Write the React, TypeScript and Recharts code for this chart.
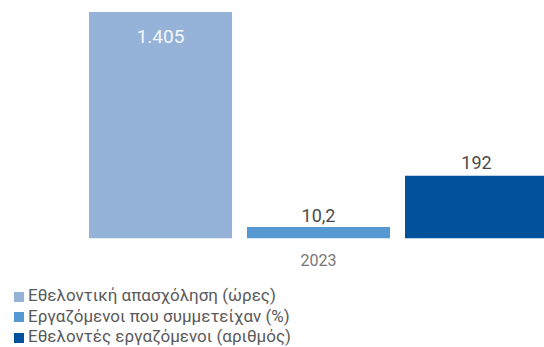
import React from 'react';
import {
  BarChart,
  Bar,
  XAxis,
  YAxis,
  Legend,
  LabelList,
} from 'recharts';

const categories = ['2023'];
const volunteerHours = [1405];
const participationPct = [10.2];
const volunteerEmployees = [192];

const seriesNames = [
  'Εθελοντική απασχόληση (ώρες)',
  'Εργαζόμενοι που συμμετείχαν (%)',
  'Εθελοντές εργαζόμενοι (αριθμός)',
];

const data = categories.map((year, i) => ({
  year,
  hours: volunteerHours[i],
  pct: participationPct[i],
  employees: volunteerEmployees[i],
}));

// greek number style: 1.405 / 10,2
const fmt = (v: any) => {
  const n = Number(v);
  if (Number.isInteger(n)) return String(n).replace(/\B(?=(\d{3})+(?!\d))/g, '.');
  return String(n).replace('.', ',');
};

const FONT = 'Roboto, sans-serif';

export default function App() {
  return (
    <div style={{ position: 'absolute', left: 0, top: 0, width: 544, height: 347, overflow: 'hidden', background: '#fff' }}>
      <BarChart
        width={560}
        height={347}
        data={data}
        margin={{ top: 12, right: 12, bottom: 17, left: 89 }}
        barCategoryGap={0}
        barGap={15}
        style={{ fontFamily: FONT }}
      >
        <XAxis
          dataKey="year"
          axisLine={false}
          tickLine={false}
          height={30}
          tick={{ fill: '#777', fontSize: 16, dy: 8 }}
        />
        <YAxis yAxisId="hours" hide domain={[0, 1405]} allowDataOverflow />
        <YAxis yAxisId="pct" hide domain={[0, 202]} allowDataOverflow />
        <YAxis yAxisId="employees" hide domain={[0, 693]} allowDataOverflow />
        <Legend
          layout="vertical"
          align="center"
          verticalAlign="bottom"
          iconType="square"
          iconSize={10}
          itemSorter={(item: any) => seriesNames.indexOf(item.value)}
          wrapperStyle={{ left: 14, top: 285, lineHeight: '20.5px', fontSize: 17 }}
          formatter={(value) => <span style={{ color: '#5a5a5a' }}>{value}</span>}
        />
        <Bar dataKey="hours" yAxisId="hours" name={seriesNames[0]} fill="#95b3d8" isAnimationActive={false}>
          <LabelList dataKey="hours" position="insideTop" offset={18} formatter={fmt} fill="#f4f7fb" fontSize={19} />
        </Bar>
        <Bar dataKey="pct" yAxisId="pct" name={seriesNames[1]} fill="#5699d2" isAnimationActive={false}>
          <LabelList dataKey="pct" position="top" offset={5} formatter={fmt} fill="#4a4a4a" fontSize={18} />
        </Bar>
        <Bar dataKey="employees" yAxisId="employees" name={seriesNames[2]} fill="#00529c" isAnimationActive={false}>
          <LabelList dataKey="employees" position="top" offset={7} formatter={fmt} fill="#4a4a4a" fontSize={18} />
        </Bar>
      </BarChart>
    </div>
  );
}
